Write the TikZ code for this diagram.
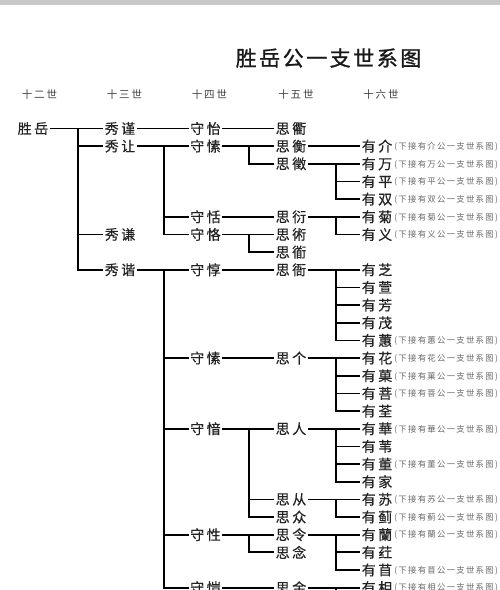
\documentclass[tikz,border=0pt]{standalone}
\usepackage{fontspec}
\newfontfamily\cjk[FakeBold=0.35]{Noto Sans CJK SC}
\newfontfamily\cjkann[LetterSpace=15]{Noto Sans CJK SC}
\newfontfamily\cjktitle[LetterSpace=12,FakeBold=1.2]{Noto Sans CJK SC}
\newfontfamily\cjkhdr[LetterSpace=18]{Noto Sans CJK SC}
\newcommand\N[2]{#1\kern2.5pt#2}
\definecolor{topbar}{RGB}{200,200,200}
\definecolor{nmtext}{RGB}{35,35,35}
\definecolor{anntext}{RGB}{105,105,105}
\tikzset{
  nm/.style={font=\cjk\fontsize{14}{15}\selectfont, text=nmtext, inner xsep=1.2pt, inner ysep=1pt},
  ann/.style={font=\cjkann\fontsize{8.4}{9}\selectfont, text=anntext, anchor=west, inner xsep=0.5pt, inner ysep=0pt},
  conn/.style={line width=1.7pt, black},
  hdr/.style={font=\cjkhdr\fontsize{10.5}{11}\selectfont, text=black!75},
  ttl/.style={font=\cjktitle\fontsize{21}{22}\selectfont, text=black!90}
}
\begin{document}
\begin{tikzpicture}[x=1pt,y=-1pt]
\useasboundingbox (0,0) rectangle (500,590);
\fill[topbar] (0,0) rectangle (500,4.5);
\node[ttl] (title) at (328.5,58) {胜岳公一支世系图};
\node[hdr] (h12) at (39.5,95) {十二世};
\node[hdr] (h13) at (124.5,95) {十三世};
\node[hdr] (h14) at (209.5,95) {十四世};
\node[hdr] (h15) at (296,95) {十五世};
\node[hdr] (h16) at (381,95) {十六世};

\begin{scope}[yshift=-128.5pt, y=-17.66pt]
\coordinate (T1) at (78,0);
\coordinate (T2) at (164,0);
\coordinate (T3) at (249,0);
\coordinate (T4) at (336,0);
\coordinate (tail) at (336,27.5);

% generation 12
\node[nm] (A) at (33,0) {\N{胜}{岳}};
% generation 13
\node[nm] (B1) at (120,0) {\N{秀}{谨}};
\node[nm] (B2) at (120,1) {\N{秀}{让}};
\node[nm] (B3) at (120,6) {\N{秀}{谦}};
\node[nm] (B4) at (120,8) {\N{秀}{谐}};
% generation 14
\node[nm] (C1) at (205.5,0) {\N{守}{怡}};
\node[nm] (C2) at (205.5,1) {\N{守}{愫}};
\node[nm] (C3) at (205.5,5) {\N{守}{恬}};
\node[nm] (C4) at (205.5,6) {\N{守}{恪}};
\node[nm] (C5) at (205.5,8) {\N{守}{惇}};
\node[nm] (C6) at (205.5,13) {\N{守}{愫}};
\node[nm] (C7) at (205.5,17) {\N{守}{愔}};
\node[nm] (C8) at (205.5,23) {\N{守}{性}};
\node[nm] (C9) at (205.5,26) {\N{守}{愷}};
% generation 15
\node[nm] (D1) at (291,0) {\N{思}{衢}};
\node[nm] (D2) at (291,1) {\N{思}{衡}};
\node[nm] (D3) at (291,2) {\N{思}{徵}};
\node[nm] (D4) at (291,5) {\N{思}{衍}};
\node[nm] (D5) at (291,6) {\N{思}{術}};
\node[nm] (D6) at (291,7) {\N{思}{衜}};
\node[nm] (D7) at (291,8) {\N{思}{衙}};
\node[nm] (D8) at (291,13) {\N{思}{个}};
\node[nm] (D9) at (291,17) {\N{思}{人}};
\node[nm] (D10) at (291,21) {\N{思}{从}};
\node[nm] (D11) at (291,22) {\N{思}{众}};
\node[nm] (D12) at (291,23) {\N{思}{令}};
\node[nm] (D13) at (291,24) {\N{思}{念}};
\node[nm] (D14) at (291,26) {\N{思}{金}};
% generation 16
\foreach \r/\c/\a in {1/介/1,2/万/1,3/平/1,4/双/1,5/菊/1,6/义/1,
  8/芝/0,9/萱/0,10/芳/0,11/茂/0,12/蕙/1,13/花/1,14/菓/1,15/菩/1,16/荃/0,
  17/華/1,18/苇/0,19/董/1,20/家/0,21/苏/1,22/蓟/1,23/蘭/1,24/荭/0,25/苜/1,26/相/1}{
  \node[nm] (E\r) at (377,\r) {\N{有}{\c}};
  \ifnum\a=1
    \node[ann] (F\r) at ([yshift=-0.6pt]E\r.east) {(下接有\c 公一支世系图)};
  \fi
}

% connectors
\draw[conn] (A.east) -- (A -| T1);
\foreach \c in {B1,B2,B3,B4} \draw[conn] (A -| T1) |- (\c.west);
\draw[conn] (B1.east) -- (C1.west);
\draw[conn] (B2.east) -- (B2 -| T2);
\foreach \c in {C2,C3,C4} \draw[conn] (B2 -| T2) |- (\c.west);
\draw[conn] (B4.east) -- (B4 -| T2);
\foreach \c in {C5,C6,C7,C8,C9} \draw[conn] (B4 -| T2) |- (\c.west);

\draw[conn] (C1.east) -- (D1.west);
\draw[conn] (C2.east) -- (C2 -| T3);
\foreach \c in {D2,D3} \draw[conn] (C2 -| T3) |- (\c.west);
\draw[conn] (C3.east) -- (D4.west);
\draw[conn] (C4.east) -- (C4 -| T3);
\foreach \c in {D5,D6} \draw[conn] (C4 -| T3) |- (\c.west);
\draw[conn] (C5.east) -- (D7.west);
\draw[conn] (C6.east) -- (D8.west);
\draw[conn] (C7.east) -- (C7 -| T3);
\foreach \c in {D9,D10,D11} \draw[conn] (C7 -| T3) |- (\c.west);
\draw[conn] (C8.east) -- (C8 -| T3);
\foreach \c in {D12,D13} \draw[conn] (C8 -| T3) |- (\c.west);
\draw[conn] (C9.east) -- (D14.west);

\draw[conn] (D2.east) -- (E1.west);
\draw[conn] (D3.east) -- (D3 -| T4);
\foreach \c in {E2,E3,E4} \draw[conn] (D3 -| T4) |- (\c.west);
\draw[conn] (D4.east) -- (D4 -| T4);
\foreach \c in {E5,E6} \draw[conn] (D4 -| T4) |- (\c.west);
\draw[conn] (D7.east) -- (D7 -| T4);
\foreach \c in {E8,E9,E10,E11,E12} \draw[conn] (D7 -| T4) |- (\c.west);
\draw[conn] (D8.east) -- (D8 -| T4);
\foreach \c in {E13,E14,E15,E16} \draw[conn] (D8 -| T4) |- (\c.west);
\draw[conn] (D9.east) -- (D9 -| T4);
\foreach \c in {E17,E18,E19,E20} \draw[conn] (D9 -| T4) |- (\c.west);
\draw[conn] (D10.east) -- (D10 -| T4);
\foreach \c in {E21,E22} \draw[conn] (D10 -| T4) |- (\c.west);
\draw[conn] (D12.east) -- (D12 -| T4);
\foreach \c in {E23,E24,E25} \draw[conn] (D12 -| T4) |- (\c.west);
\draw[conn] (D14.east) -- (D14 -| T4);
\draw[conn] (D14 -| T4) |- (E26.west);
\draw[conn] (D14 -| T4) -- (tail);
\end{scope}
\end{tikzpicture}
\end{document}
